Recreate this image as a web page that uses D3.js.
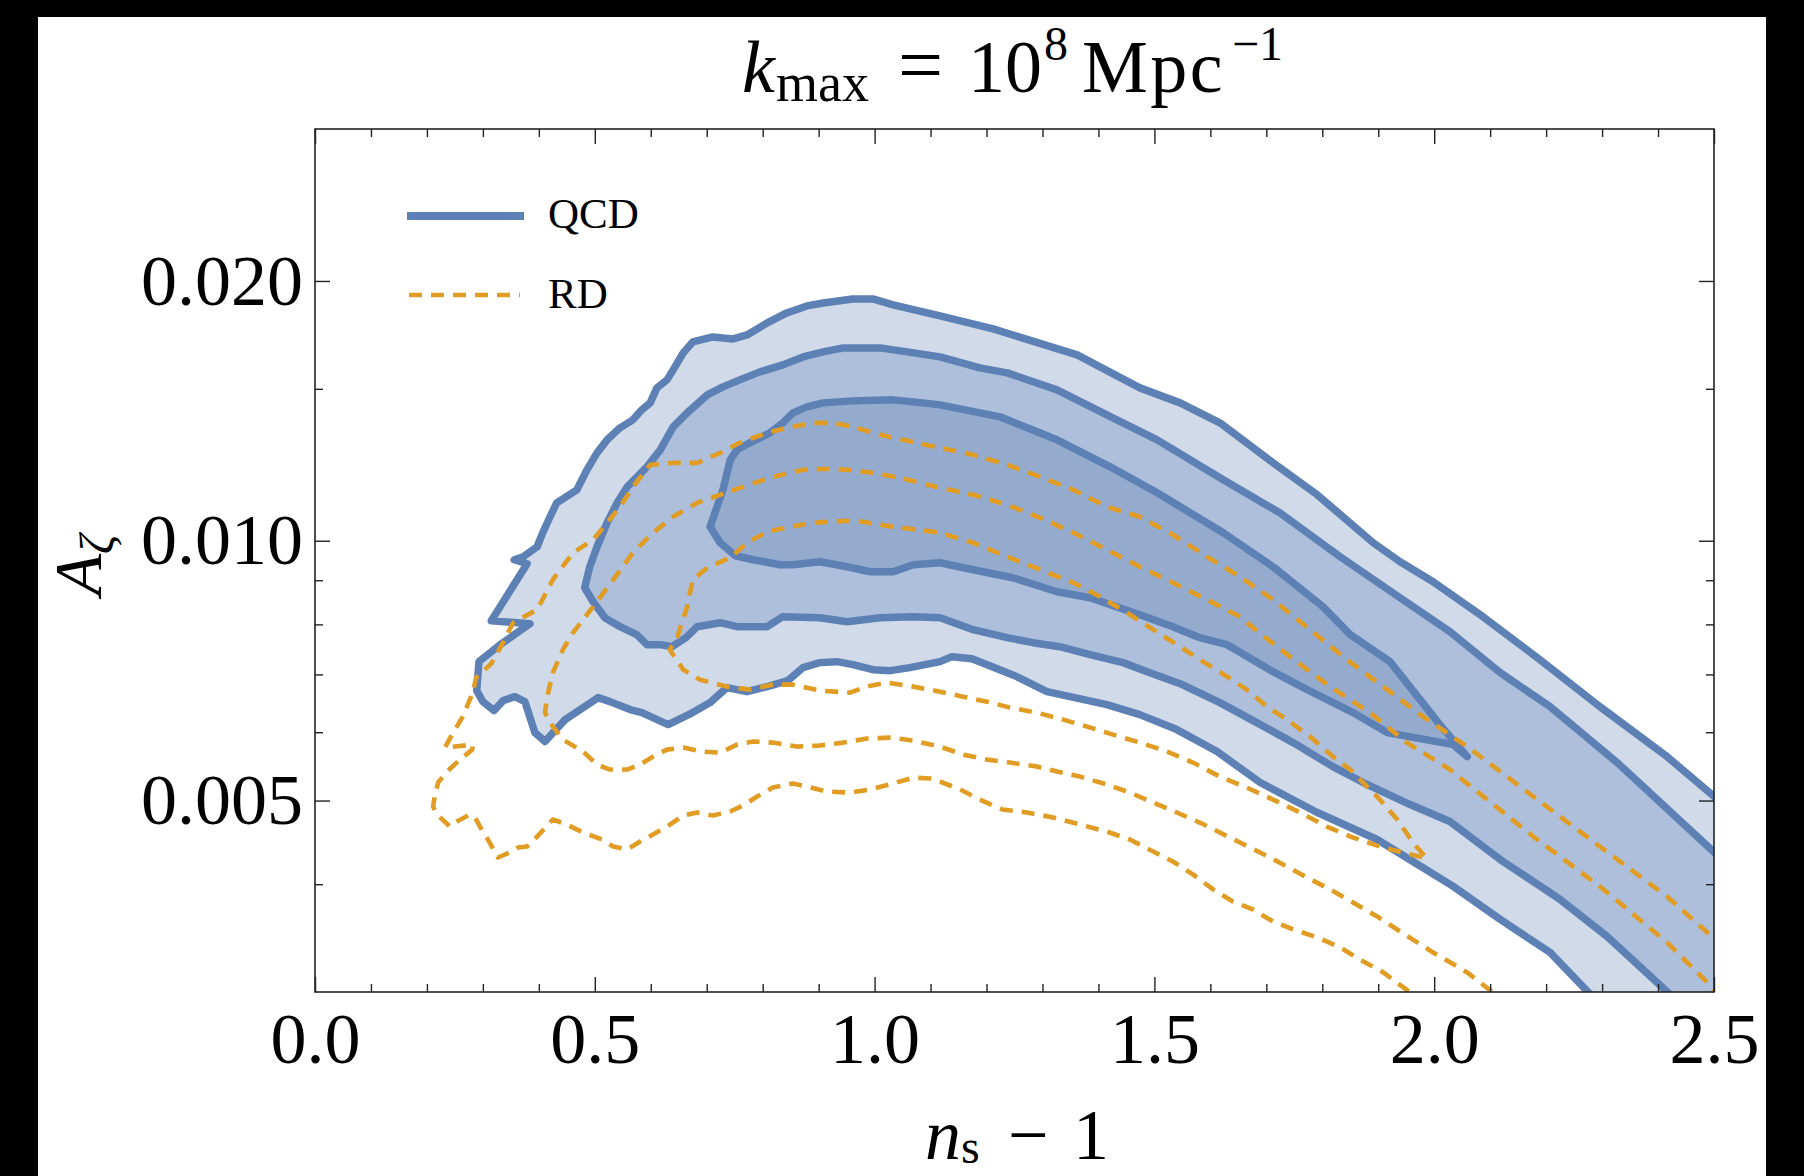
<!DOCTYPE html>
<html><head><meta charset="utf-8">
<script src="https://cdn.jsdelivr.net/npm/d3@7"></script>
<style>html,body{margin:0;padding:0;background:#000;}svg{display:block;}</style>
</head><body>
<script>
// ---------- data ----------
const xMajorTicks = [0, 0.5, 1.0, 1.5, 2.0, 2.5];
const xMajorLabels = ["0.0", "0.5", "1.0", "1.5", "2.0", "2.5"];
const xMinorTicks = [0.1,0.2,0.3,0.4,0.6,0.7,0.8,0.9,1.1,1.2,1.3,1.4,1.6,1.7,1.8,1.9,2.1,2.2,2.3,2.4];
const yMajorTicks = [0.005, 0.010, 0.020];
const yMajorLabels = ["0.005", "0.010", "0.020"];
const yMinorTicks = [0.004, 0.006, 0.007, 0.008, 0.009, 0.015];
const legendLabels = ["QCD", "RD"];

// QCD contours (n_s - 1, A_zeta)
const qcdOuter = [[2.29,0.00293],[2.207,0.003334],[2.118,0.003641],[2.034,0.003976],[1.962,0.00425],[1.898,0.004506],[1.791,0.004843],[1.689,0.005246],[1.612,0.005698],[1.54,0.006042],[1.474,0.006288],[1.415,0.006458],[1.308,0.006686],[1.254,0.006959],[1.174,0.007301],[1.138,0.00734],[1.117,0.007243],[1.063,0.007128],[1.028,0.007071],[0.997,0.00709],[0.961,0.007185],[0.933,0.007243],[0.902,0.007224],[0.872,0.007128],[0.845,0.006885],[0.808,0.006776],[0.772,0.006686],[0.736,0.006758],[0.706,0.006493],[0.675,0.006322],[0.631,0.006123],[0.584,0.006322],[0.563,0.006373],[0.527,0.00651],[0.506,0.00658],[0.447,0.006205],[0.411,0.005852],[0.393,0.005994],[0.375,0.00651],[0.357,0.006597],[0.336,0.006527],[0.32,0.006356],[0.3,0.00651],[0.289,0.006704],[0.293,0.007243],[0.331,0.007579],[0.384,0.008015],[0.315,0.008079],[0.379,0.009405],[0.356,0.009506],[0.372,0.009583],[0.397,0.009841],[0.407,0.010216],[0.42,0.010661],[0.432,0.011066],[0.468,0.011456],[0.486,0.012084],[0.504,0.012644],[0.522,0.01309],[0.545,0.013516],[0.568,0.013807],[0.584,0.01418],[0.599,0.014447],[0.611,0.015037],[0.629,0.015361],[0.64,0.015776],[0.658,0.016507],[0.675,0.016998],[0.711,0.017227],[0.747,0.017135],[0.772,0.017319],[0.808,0.017882],[0.843,0.018365],[0.879,0.018711],[0.908,0.018861],[0.961,0.019063],[0.997,0.019063],[1.033,0.018761],[1.117,0.018219],[1.212,0.017598],[1.362,0.01642],[1.474,0.015037],[1.546,0.014447],[1.617,0.013697],[1.712,0.012311],[1.791,0.011305],[1.891,0.009947],[1.939,0.009456],[1.998,0.008965],[2.087,0.008166],[2.189,0.007281],[2.296,0.006424],[2.416,0.005622],[2.52,0.00493]];
const qcdMiddle = [[2.434,0.00293],[2.309,0.003479],[2.225,0.00384],[2.118,0.004272],[2.028,0.004728],[1.957,0.004947],[1.873,0.005246],[1.819,0.005474],[1.748,0.005836],[1.683,0.006156],[1.617,0.006493],[1.546,0.00683],[1.487,0.007052],[1.444,0.007224],[1.385,0.007379],[1.331,0.007538],[1.283,0.007619],[1.237,0.007721],[1.176,0.007888],[1.117,0.008144],[1.069,0.008166],[1.01,0.008144],[0.951,0.008058],[0.902,0.008144],[0.836,0.008166],[0.808,0.007951],[0.754,0.007951],[0.724,0.008036],[0.683,0.007951],[0.663,0.007721],[0.638,0.007538],[0.617,0.007579],[0.593,0.007579],[0.575,0.007783],[0.545,0.007951],[0.518,0.008144],[0.497,0.008499],[0.482,0.008822],[0.491,0.00933],[0.504,0.009841],[0.522,0.010492],[0.54,0.011066],[0.558,0.011548],[0.593,0.012181],[0.617,0.012746],[0.64,0.013552],[0.665,0.014067],[0.701,0.014759],[0.729,0.015077],[0.759,0.015361],[0.795,0.015692],[0.836,0.015988],[0.872,0.016332],[0.908,0.016551],[0.944,0.016729],[1.01,0.016729],[1.058,0.016551],[1.117,0.016332],[1.188,0.01586],[1.237,0.01565],[1.326,0.014957],[1.415,0.013992],[1.505,0.01309],[1.623,0.011766],[1.724,0.010775],[1.832,0.009583],[1.939,0.00859],[2.028,0.007846],[2.118,0.007033],[2.207,0.006424],[2.327,0.005533],[2.52,0.004238]];
const qcdInner = [[0.706,0.01038],[0.729,0.011456],[0.742,0.01241],[0.754,0.012746],[0.777,0.012986],[0.813,0.013337],[0.836,0.013697],[0.854,0.014067],[0.879,0.014294],[0.908,0.014447],[0.961,0.014524],[1.033,0.014563],[1.069,0.014486],[1.117,0.01437],[1.224,0.013918],[1.326,0.01309],[1.421,0.012181],[1.505,0.011365],[1.623,0.010216],[1.712,0.00933],[1.801,0.008387],[1.85,0.007783],[1.921,0.007243],[2.01,0.006123],[2.059,0.005622],[2.034,0.005805],[1.916,0.005994],[1.855,0.006322],[1.773,0.006722],[1.712,0.007052],[1.63,0.007579],[1.581,0.007721],[1.533,0.007951],[1.474,0.00821],[1.385,0.00859],[1.326,0.008729],[1.247,0.009061],[1.176,0.009256],[1.117,0.009431],[1.069,0.00938],[1.033,0.009207],[0.992,0.009207],[0.951,0.00933],[0.902,0.009456],[0.854,0.00938],[0.831,0.00938],[0.783,0.009506],[0.751,0.009608],[0.724,0.009947]];

// RD contours (dashed)
const rdOuter = [[2.52,0.00337],[2.416,0.003871],[2.296,0.004423],[2.177,0.005054],[2.059,0.005774],[1.98,0.006255],[1.916,0.006722],[1.844,0.007281],[1.778,0.007888],[1.712,0.008545],[1.653,0.009085],[1.594,0.009583],[1.533,0.010161],[1.474,0.010661],[1.415,0.010949],[1.355,0.011456],[1.296,0.01186],[1.237,0.012246],[1.176,0.012577],[1.117,0.012814],[1.051,0.01309],[1.01,0.013266],[0.961,0.013552],[0.926,0.013697],[0.89,0.013697],[0.843,0.013516],[0.808,0.013337],[0.759,0.012986],[0.724,0.012644],[0.683,0.012311],[0.64,0.012311],[0.599,0.012246],[0.568,0.011548],[0.545,0.010949],[0.522,0.010492],[0.497,0.010027],[0.461,0.009685],[0.425,0.009013],[0.397,0.00832],[0.354,0.008036],[0.336,0.007619],[0.315,0.007204],[0.288,0.00694],[0.282,0.006668],[0.264,0.006255],[0.247,0.005994],[0.232,0.005759],[0.282,0.005805],[0.281,0.005728],[0.259,0.005577],[0.236,0.005402],[0.22,0.005246],[0.214,0.005054],[0.211,0.004921],[0.218,0.004817],[0.241,0.004665],[0.25,0.004715],[0.277,0.004817],[0.286,0.004779],[0.298,0.004628],[0.309,0.004506],[0.327,0.004295],[0.348,0.004353],[0.363,0.004411],[0.379,0.004423],[0.397,0.004542],[0.425,0.004753],[0.45,0.00469],[0.479,0.004591],[0.513,0.004506],[0.533,0.004423],[0.558,0.004388],[0.581,0.004482],[0.604,0.004567],[0.629,0.004665],[0.658,0.004804],[0.683,0.004843],[0.711,0.004804],[0.742,0.004856],[0.765,0.004934],[0.79,0.005054],[0.818,0.005176],[0.854,0.005232],[0.879,0.00519],[0.915,0.005121],[0.956,0.005108],[0.992,0.005149],[1.033,0.005232],[1.069,0.005316],[1.099,0.005302],[1.117,0.00526],[1.153,0.005149],[1.188,0.005013],[1.229,0.004881],[1.272,0.004843],[1.319,0.004779],[1.367,0.00469],[1.415,0.004603],[1.456,0.004506],[1.498,0.004364],[1.533,0.00425],[1.569,0.004105],[1.605,0.003944],[1.64,0.00382],[1.676,0.003739],[1.712,0.003621],[1.748,0.003545],[1.791,0.00347],[1.832,0.003379],[1.867,0.003272],[1.909,0.003161],[1.969,0.002957]];
const rdMiddle = [[2.514,0.002949],[2.488,0.003078],[2.416,0.003424],[2.296,0.003976],[2.177,0.004542],[2.028,0.005431],[1.951,0.005836],[1.885,0.006322],[1.814,0.006776],[1.742,0.00734],[1.685,0.007846],[1.653,0.008166],[1.594,0.008545],[1.533,0.008941],[1.474,0.00933],[1.415,0.009763],[1.355,0.010216],[1.296,0.010632],[1.237,0.011007],[1.176,0.011305],[1.117,0.011518],[1.081,0.011672],[1.045,0.011829],[0.997,0.011988],[0.951,0.012084],[0.915,0.012116],[0.872,0.012084],[0.818,0.01186],[0.765,0.011548],[0.724,0.011305],[0.683,0.011066],[0.64,0.010661],[0.604,0.010216],[0.568,0.009685],[0.533,0.009013],[0.497,0.008387],[0.461,0.007825],[0.443,0.007478],[0.425,0.007033],[0.415,0.006597],[0.411,0.006322],[0.425,0.00609],[0.443,0.005883],[0.479,0.005698],[0.504,0.005504],[0.527,0.005431],[0.558,0.005431],[0.581,0.005504],[0.604,0.005622],[0.629,0.005728],[0.658,0.005759],[0.693,0.005698],[0.724,0.005682],[0.754,0.005805],[0.783,0.005852],[0.818,0.005836],[0.861,0.005774],[0.902,0.00579],[0.944,0.005836],[0.986,0.005899],[1.028,0.005914],[1.069,0.005867],[1.117,0.005774],[1.158,0.005652],[1.201,0.005577],[1.242,0.005533],[1.29,0.005474],[1.326,0.005402],[1.367,0.00533],[1.415,0.005218],[1.456,0.005108],[1.498,0.004973],[1.54,0.004843],[1.581,0.004715],[1.617,0.004591],[1.653,0.00447],[1.689,0.004353],[1.73,0.004216],[1.773,0.004072],[1.814,0.003944],[1.855,0.00381],[1.898,0.00367],[1.939,0.003526],[1.998,0.003334],[2.059,0.003161],[2.123,0.002934]];
const rdInner = [[0.647,0.007721],[0.665,0.008387],[0.675,0.009013],[0.701,0.009306],[0.742,0.009557],[0.772,0.009947],[0.808,0.010243],[0.849,0.01038],[0.89,0.010492],[0.951,0.010548],[0.979,0.01052],[1.022,0.010408],[1.063,0.010325],[1.117,0.010216],[1.176,0.009947],[1.237,0.009583],[1.296,0.009256],[1.355,0.008941],[1.403,0.008613],[1.451,0.008254],[1.498,0.007888],[1.546,0.007538],[1.587,0.007243],[1.63,0.006959],[1.665,0.006722],[1.701,0.006424],[1.737,0.006205],[1.778,0.00593],[1.819,0.005622],[1.85,0.005431],[1.873,0.005246],[1.903,0.005013],[1.934,0.004753],[1.962,0.00447],[1.987,0.004284],[1.944,0.004353],[1.903,0.004423],[1.855,0.00453],[1.808,0.004665],[1.76,0.004843],[1.712,0.005013],[1.665,0.005176],[1.617,0.00533],[1.569,0.005533],[1.523,0.005698],[1.474,0.005836],[1.426,0.005962],[1.38,0.00609],[1.337,0.006205],[1.29,0.006322],[1.242,0.006407],[1.201,0.00651],[1.158,0.006597],[1.117,0.006686],[1.069,0.006776],[1.022,0.006848],[0.986,0.006776],[0.956,0.006668],[0.902,0.006704],[0.854,0.006812],[0.818,0.006812],[0.777,0.006722],[0.736,0.006776],[0.688,0.006903],[0.658,0.00709],[0.634,0.007478]];

// ---------- layout & style ----------
const W = 1804, H = 1176;
const M = {left: 315, top: 129, right: 1714, bottom: 992};
const BLUE = "#5e81b5", ORANGE = "#e19c24";
const FILLS = ["#d0dae9", "#adbfda", "#95abce"];
const SERIF = "'Liberation Serif', 'Times New Roman', serif";

const svg = d3.select("body").append("svg").attr("width", W).attr("height", H);
svg.append("rect").attr("width", W).attr("height", H).attr("fill", "#000");
svg.append("rect").attr("x", 38).attr("y", 17).attr("width", 1728).attr("height", H - 17).attr("fill", "#fff");

const x = d3.scaleLinear().domain([0, 2.5]).range([M.left, M.right]);
const y = d3.scaleLog().domain([0.003, 0.03]).range([M.bottom, M.top]);

svg.append("clipPath").attr("id", "plotclip").append("rect")
  .attr("x", M.left).attr("y", M.top).attr("width", M.right - M.left).attr("height", M.bottom - M.top);

const plot = svg.append("g").attr("clip-path", "url(#plotclip)");
const line = d3.line().x(d => x(d[0])).y(d => y(d[1]));
const closedLine = d3.line().x(d => x(d[0])).y(d => y(d[1])).curve(d3.curveLinearClosed);

// fills for open contours: close through the corner formed by the end points
function openFill(pts) {
  const first = pts[0], last = pts[pts.length - 1];
  return closedLine(pts.concat([[last[0], first[1]]]));
}
plot.append("path").attr("d", openFill(qcdOuter)).attr("fill", FILLS[0]);
plot.append("path").attr("d", openFill(qcdMiddle)).attr("fill", FILLS[1]);
plot.append("path").attr("d", closedLine(qcdInner)).attr("fill", FILLS[2]);

const blueStyle = s => s.attr("fill", "none").attr("stroke", BLUE).attr("stroke-width", 7.5)
  .attr("stroke-linejoin", "round");
plot.append("path").attr("d", line(qcdOuter)).call(blueStyle);
plot.append("path").attr("d", line(qcdMiddle)).call(blueStyle);
plot.append("path").attr("d", closedLine(qcdInner)).call(blueStyle);

const dashStyle = s => s.attr("fill", "none").attr("stroke", ORANGE).attr("stroke-width", 4.6)
  .attr("stroke-dasharray", "13 9").attr("stroke-linejoin", "round");
plot.append("path").attr("d", line(rdOuter)).call(dashStyle);
plot.append("path").attr("d", line(rdMiddle)).call(dashStyle);
plot.append("path").attr("d", closedLine(rdInner)).call(dashStyle);

// ---------- axes ----------
function styleAxis(g) {
  g.select(".domain").remove();
  g.selectAll(".tick line").attr("stroke", "#222").attr("stroke-width", 1.4);
  g.attr("font-family", SERIF).attr("font-size", 72);
  g.selectAll("text").attr("fill", "#000");
}
svg.append("g").attr("transform", `translate(0,${M.bottom})`)
  .call(d3.axisBottom(x).tickValues(xMajorTicks).tickFormat((d, i) => xMajorLabels[i]).tickSize(-15).tickPadding(20).tickSizeOuter(0))
  .call(styleAxis);
svg.append("g").attr("transform", `translate(0,${M.bottom})`)
  .call(d3.axisBottom(x).tickValues(xMinorTicks).tickFormat("").tickSize(-8).tickSizeOuter(0)).call(styleAxis);
svg.append("g").attr("transform", `translate(0,${M.top})`)
  .call(d3.axisTop(x).tickValues(xMajorTicks).tickFormat("").tickSize(-15).tickSizeOuter(0)).call(styleAxis);
svg.append("g").attr("transform", `translate(0,${M.top})`)
  .call(d3.axisTop(x).tickValues(xMinorTicks).tickFormat("").tickSize(-8).tickSizeOuter(0)).call(styleAxis);
svg.append("g").attr("transform", `translate(${M.left},0)`)
  .call(d3.axisLeft(y).tickValues(yMajorTicks).tickFormat((d, i) => yMajorLabels[i]).tickSize(-15).tickPadding(12).tickSizeOuter(0))
  .call(styleAxis);
svg.append("g").attr("transform", `translate(${M.left},0)`)
  .call(d3.axisLeft(y).tickValues(yMinorTicks).tickFormat("").tickSize(-8).tickSizeOuter(0)).call(styleAxis);
svg.append("g").attr("transform", `translate(${M.right},0)`)
  .call(d3.axisRight(y).tickValues(yMajorTicks).tickFormat("").tickSize(-15).tickSizeOuter(0)).call(styleAxis);
svg.append("g").attr("transform", `translate(${M.right},0)`)
  .call(d3.axisRight(y).tickValues(yMinorTicks).tickFormat("").tickSize(-8).tickSizeOuter(0)).call(styleAxis);

svg.append("rect").attr("x", M.left).attr("y", M.top).attr("width", M.right - M.left).attr("height", M.bottom - M.top)
  .attr("fill", "none").attr("stroke", "#222").attr("stroke-width", 1.6);

// ---------- titles ----------
const title = svg.append("text").attr("y", 92)
  .attr("font-family", SERIF).attr("font-size", 74).attr("fill", "#000");
title.append("tspan").attr("x", 742).attr("font-style", "italic").text("k");
title.append("tspan").attr("x", 776).attr("font-size", 54).attr("dy", 9).text("max");
title.append("tspan").attr("x", 898).attr("dy", -9).attr("font-size", 80).text("=");
title.append("tspan").attr("x", 968).text("10");
title.append("tspan").attr("x", 1044).attr("font-size", 48).attr("dy", -32).text("8");
title.append("tspan").attr("x", 1082).attr("dy", 32).attr("letter-spacing", 2.5).text("Mpc");
title.append("tspan").attr("x", 1232).attr("font-size", 48).attr("dy", -32).text("\u22121");

const xl = svg.append("text").attr("y", 1159)
  .attr("font-family", SERIF).attr("font-size", 72).attr("fill", "#000");
xl.append("tspan").attr("x", 925).attr("font-style", "italic").text("n");
xl.append("tspan").attr("font-size", 48).attr("dy", 4).text("s");
xl.append("tspan").attr("x", 1008).attr("dy", -4).text("\u2212");
xl.append("tspan").attr("x", 1073).text("1");

const yl = svg.append("text").attr("transform", "translate(101,565) rotate(-90)").attr("text-anchor", "middle")
  .attr("font-family", SERIF).attr("font-size", 68).attr("fill", "#000");
yl.append("tspan").attr("font-style", "italic").text("A");
yl.append("tspan").attr("font-style", "italic").attr("font-size", 48).attr("dy", 12).text("\u03B6");

// ---------- legend ----------
const lg = svg.append("g");
lg.append("line").attr("x1", 407).attr("x2", 524).attr("y1", 216).attr("y2", 216)
  .attr("stroke", BLUE).attr("stroke-width", 8);
lg.append("line").attr("x1", 409).attr("x2", 520).attr("y1", 295).attr("y2", 295)
  .attr("stroke", ORANGE).attr("stroke-width", 4.6).attr("stroke-dasharray", "13 9");
lg.selectAll("text.lab").data(legendLabels).join("text").attr("class", "lab")
  .attr("x", 548).attr("y", (d, i) => 228 + i * 80)
  .attr("font-family", SERIF).attr("font-size", 43).attr("fill", "#000").text(d => d);
</script>
</body></html>
